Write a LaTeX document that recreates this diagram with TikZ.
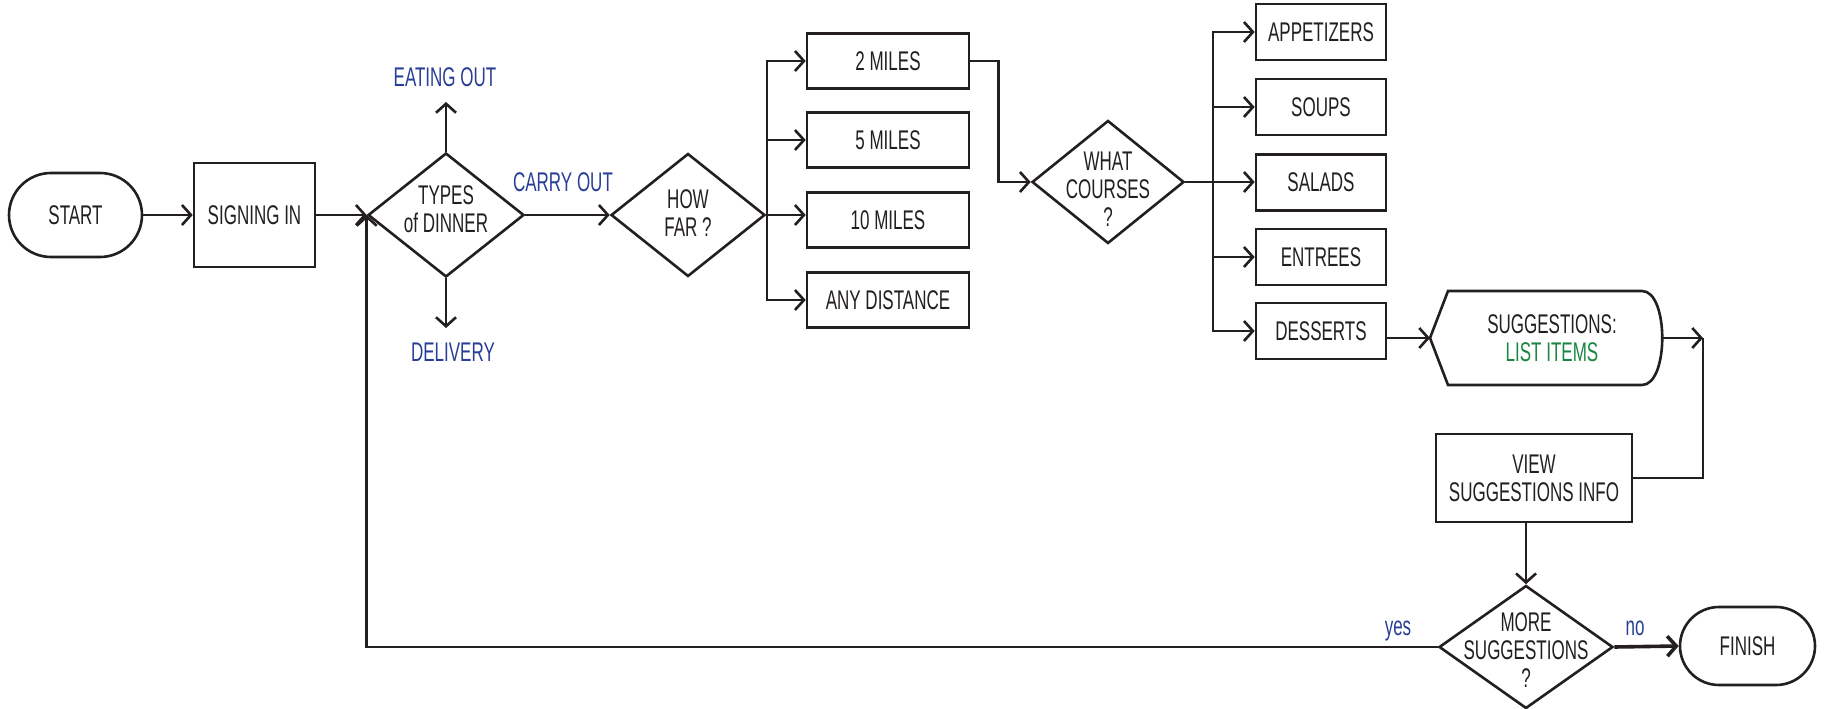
\documentclass[tikz,border=0pt]{standalone}
\usepackage{fontspec}
\setmainfont[FakeStretch=0.63]{Liberation Sans}
\usetikzlibrary{shapes.geometric,shapes.misc,arrows.meta}
\definecolor{ink}{RGB}{35,31,32}
\definecolor{blu}{RGB}{40,62,150}
\definecolor{grn}{RGB}{25,135,65}
\tikzset{
  ln/.style={line width=2.6pt, draw=ink},
  arr/.style={ln, -{Straight Barb[length=9pt,width=20pt]}},
  box/.style={draw=ink, line width=2.6pt, rectangle},
  term/.style={draw=ink, line width=2.6pt, rounded rectangle},
  dia/.style={draw=ink, line width=2.6pt, diamond},
  lbl/.style={text=blu},
}
\begin{document}
\begin{tikzpicture}[x=1pt,y=-1pt,
  every node/.style={font=\fontsize{27}{28}\selectfont, text=ink, inner sep=0pt, align=center}]
\useasboundingbox (0,0) rectangle (1824,709);

% left part
\node[term, minimum width=133pt, minimum height=84pt] (start) at (75.5,215) {START};
\node[box, minimum width=121pt, minimum height=104pt] (sign) at (254.5,215) {SIGNING IN};
\node[dia, minimum width=156pt, minimum height=124pt] (types) at (446,215) {};
\node (typest) at (446,209) {TYPES\\of DINNER};
\node[lbl] (eat) at (445,77) {EATING OUT};
\node[lbl] (carry) at (563,182) {CARRY OUT};
\node[lbl] (deliv) at (453,352) {DELIVERY};
\coordinate (eattip) at (446,102);
\coordinate (deltip) at (446,328);

% how far
\node[dia, minimum width=154pt, minimum height=123pt] (hf) at (688,215) {};
\node (hft) at (688,213) {HOW\\FAR ?};
\coordinate (hb) at (767,215);
\node[box, minimum width=162pt, minimum height=55pt] (m2) at (888,61) {2 MILES};
\node[box, minimum width=162pt, minimum height=55pt] (m5) at (888,140) {5 MILES};
\node[box, minimum width=162pt, minimum height=55pt] (m10) at (888,220) {10 MILES};
\node[box, minimum width=162pt, minimum height=55pt] (many) at (888,300) {ANY DISTANCE};

% courses
\node[dia, minimum width=152pt, minimum height=123pt] (wc) at (1108,182) {};
\node (wct) at (1108,189) {WHAT\\COURSES\\?};
\coordinate (cb) at (1213,182);
\node[box, minimum width=130pt, minimum height=56pt] (app) at (1321,32) {APPETIZERS};
\node[box, minimum width=130pt, minimum height=56pt] (soup) at (1321,107) {SOUPS};
\node[box, minimum width=130pt, minimum height=56pt] (sal) at (1321,182.5) {SALADS};
\node[box, minimum width=130pt, minimum height=56pt] (ent) at (1321,257) {ENTREES};
\node[box, minimum width=130pt, minimum height=56pt] (des) at (1321,331) {DESSERTS};

% display shape
\draw[ln] (1448,291) -- (1642,291) .. controls (1669,291) and (1669,385) .. (1642,385)
  -- (1448,385) -- (1430,338) -- cycle;
\node (sugg) at (1552,338) {SUGGESTIONS:\\\textcolor{grn}{LIST ITEMS}};
\coordinate (dispW) at (1430,338);
\coordinate (dispE) at (1662,338);
\coordinate (corner) at (1703,338);

% bottom right
\node[box, minimum width=196pt, minimum height=88pt] (view) at (1534,478) {VIEW\\SUGGESTIONS INFO};
\node[dia, minimum width=174pt, minimum height=123pt] (more) at (1526,647) {};
\node (moret) at (1526,650) {MORE\\SUGGESTIONS\\?};
\node[term, minimum width=135pt, minimum height=78pt] (fin) at (1747.5,646) {FINISH};
\node[lbl, anchor=base] (yes) at (1398,635) {yes};
\node[lbl, anchor=base] (no) at (1635,635) {no};

% connectors
\draw[arr] (start.east) -- (sign.west);
\draw[arr] (sign.east) -- (types.west);
\draw[arr] (types.north) -- (eattip);
\draw[arr] (types.south) -- (deltip);
\draw[arr] (types.east) -- (hf.west);
\draw[ln] (hf.east) -- (hb);
\draw[arr] (hb) |- (m2.west);
\draw[arr] (hb) |- (m5.west);
\draw[arr] (hb) |- (many.west);
\draw[arr] (hf.east) -- (hf.east -| m10.west);
\draw[arr] (m2.east) -- ++(28,0) |- (wc.west);
\draw[arr] (wc.east) -- (wc.east -| sal.west);
\draw[arr] (cb) |- (app.west);
\draw[arr] (cb) |- (soup.west);
\draw[arr] (cb) |- (ent.west);
\draw[arr] (cb) |- (des.west);
\draw[arr] (des.east |- dispW) -- (dispW);
\draw[arr] (dispE) -- (corner);
\draw[ln] (corner) |- (view.east);
\draw[arr] (more.north |- view.south) -- (more.north);
\draw[arr, line width=3.6pt] (more.east) -- (fin.west);
\draw[arr] (more.west) -| (types.west);
\end{tikzpicture}
\end{document}
